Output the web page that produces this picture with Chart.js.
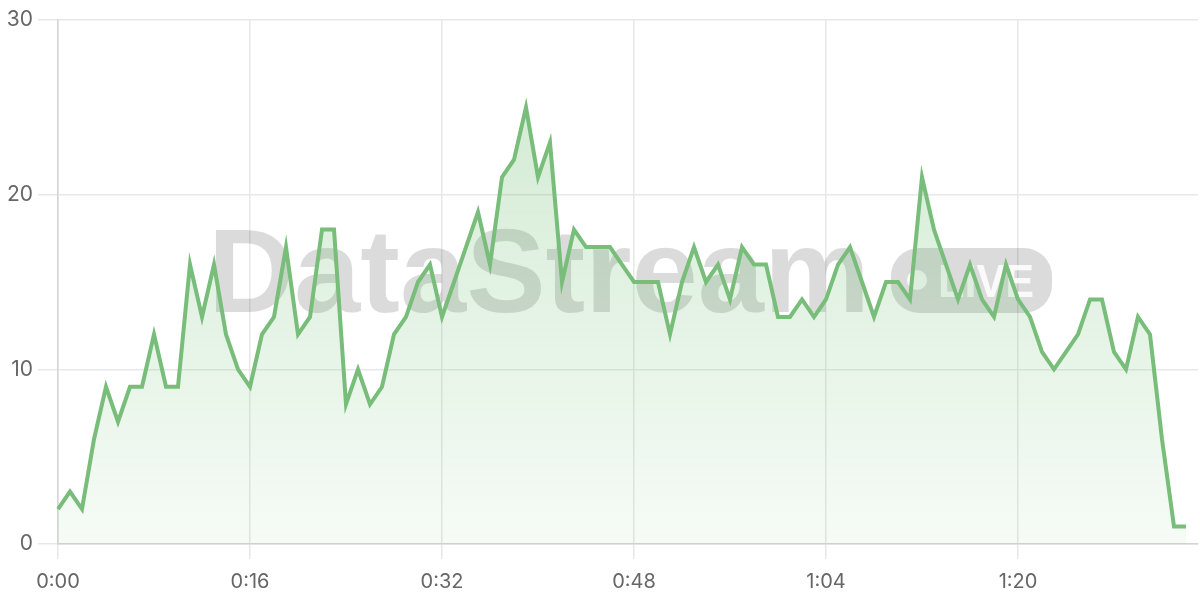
<!DOCTYPE html>
<html>
<head>
<meta charset="utf-8">
<script src="https://cdn.jsdelivr.net/npm/chart.js@4/dist/chart.umd.min.js"></script>
<style>
  html, body { margin: 0; padding: 0; background: #fff; }
  #wrap { width: 1200px; height: 600px; }
</style>
</head>
<body>
<div id="wrap"><canvas id="chart"></canvas></div>
<script>
// viewers per second
const viewers = [
  2, 3, 2, 6, 9, 7, 9, 9, 12, 9,
  9, 16, 13, 16, 12, 10, 9, 12, 13, 17,
  12, 13, 18, 18, 8, 10, 8, 9, 12, 13,
  15, 16, 13, 15, 17, 19, 16, 21, 22, 25,
  21, 23, 15, 18, 17, 17, 17, 16, 15, 15,
  15, 12, 15, 17, 15, 16, 14, 17, 16, 16,
  13, 13, 14, 13, 14, 16, 17, 15, 13, 15,
  15, 14, 21, 18, 16, 14, 16, 14, 13, 16,
  14, 13, 11, 10, 11, 12, 14, 14, 11, 10,
  13, 12, 6, 1, 1
];
const totalSeconds = 96;  // axis runs one step past the last sample
const tickEvery = 16;
const yTicks = [0, 10, 20, 30];

// labels like 0:00, 1:04
const labels = [];
for (let s = 0; s < totalSeconds; s++) {
  labels.push(Math.floor(s / 60) + ':' + String(s % 60).padStart(2, '0'));
}

// watermark drawn under the line
const watermark = {
  id: 'watermark',
  beforeDatasetsDraw(chart) {
    const ctx = chart.ctx;
    ctx.save();
    ctx.fillStyle = 'rgba(0,0,0,0.14)';
    ctx.font = 'bold 100px "Liberation Sans", Arial, sans-serif';
    const w = ctx.measureText('DataStream').width;
    const size = 100 * 662 / w;
    ctx.font = 'bold ' + size + 'px "Liberation Sans", Arial, sans-serif';
    ctx.textBaseline = 'alphabetic';
    ctx.fillText('DataStream', 208, 312);

    // LIVE pill
    ctx.beginPath();
    ctx.roundRect(891, 248, 161, 65, 28);
    ctx.fill();
    ctx.restore();

    ctx.save();
    ctx.fillStyle = 'rgba(255,255,255,0.85)';
    ctx.beginPath();
    ctx.arc(917, 280, 10, 0, Math.PI * 2);
    ctx.fill();
    ctx.font = 'bold 46px "Liberation Sans", Arial, sans-serif';
    const lw = ctx.measureText('LIVE').width;
    ctx.translate(938, 297);
    ctx.scale(96 / lw, 1);
    ctx.fillText('LIVE', 0, 0);
    ctx.restore();
  }
};

const ctx = document.getElementById('chart').getContext('2d');
const myChart = new Chart(ctx, {
  type: 'line',
  data: {
    labels: labels,
    datasets: [{
      data: viewers,
      borderColor: '#78bd79',
      borderWidth: 4,
      pointRadius: 0,
      tension: 0,
      fill: 'origin',
      backgroundColor: (c) => {
        const area = c.chart.chartArea;
        if (!area) return 'rgba(76,175,80,0.12)';
        const g = c.chart.ctx.createLinearGradient(0, area.top, 0, area.bottom);
        g.addColorStop(0, 'rgba(76,175,80,0.28)');
        g.addColorStop(1, 'rgba(76,175,80,0.05)');
        return g;
      }
    }]
  },
  options: {
    responsive: true,
    maintainAspectRatio: false,
    animation: false,
    layout: { padding: { top: 20, right: 2, left: 0, bottom: 0 } },
    plugins: {
      legend: { display: false },
      tooltip: { enabled: false }
    },
    scales: {
      x: {
        border: { color: '#d4d4d4', width: 1.5 },
        grid: { color: '#e8e8e8', tickLength: 15, lineWidth: 1.5 },
        ticks: {
          autoSkip: false,
          maxRotation: 0,
          color: '#666',
          padding: 11,
          font: { family: 'Inter, "Liberation Sans", sans-serif', size: 20 },
          callback: (v, i) => (i % tickEvery === 0 ? labels[i] : null)
        },
        afterFit: (s) => { s.height = 56; }
      },
      y: {
        min: yTicks[0],
        max: yTicks[yTicks.length - 1],
        border: { color: '#d4d4d4', width: 1.5 },
        grid: { color: '#e8e8e8', tickLength: 20, lineWidth: 1.5 },
        afterBuildTicks: (s) => { s.ticks = yTicks.map(v => ({ value: v })); },
        ticks: {
          color: '#666',
          padding: 5,
          font: { family: 'Inter, "Liberation Sans", sans-serif', size: 21 }
        },
        afterFit: (s) => { s.width = 58; }
      }
    }
  },
  plugins: [watermark]
});
</script>
</body>
</html>
